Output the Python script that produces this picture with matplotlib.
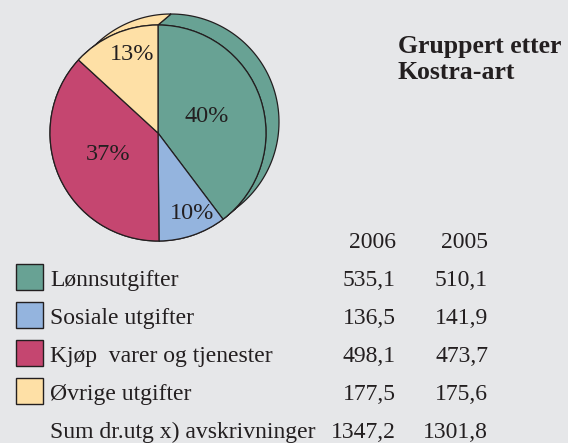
import matplotlib.pyplot as plt
import numpy as np
from matplotlib.patches import Polygon, Rectangle

# data (2006 values drive the pie)
categories = ['Lønnsutgifter', 'Sosiale utgifter', 'Kjøp  varer og tjenester', 'Øvrige utgifter']
values_2006 = [535.1, 136.5, 498.1, 177.5]
values_2005 = [510.1, 141.9, 473.7, 175.6]
years = ['2006', '2005']
sum_label = 'Sum dr.utg x) avskrivninger'
sum_2006 = 1347.2
sum_2005 = 1301.8
title_lines = ['Gruppert etter', 'Kostra-art']

colors = ['#68a294', '#94b4de', '#c54670', '#fee0a6']
edge = '#231f20'
txt = '#231f20'
bg = '#e6e7e9'


def fmt(v):
    return ('%.1f' % v).replace('.', ',')


W, H = 568, 443
plt.rcParams['font.family'] = ['Liberation Serif', 'DejaVu Serif']
fig = plt.figure(figsize=(W / 100, H / 100), dpi=100, facecolor=bg)
ax = fig.add_axes([0, 0, 1, 1])

# pie layout in pixel coords (y up)
cx, cy, r = 158, H - 133, 108
dx, dy = 13, 11  # depth of the extruded back

wedges, _ = ax.pie(values_2006, colors=colors, startangle=90, counterclock=False,
                   center=(cx, cy), radius=r,
                   wedgeprops=dict(edgecolor=edge, linewidth=0.9, zorder=3))

# side faces: front arc joined to the shifted back arc
for w, c in zip(wedges, colors):
    t = np.radians(np.linspace(w.theta1, w.theta2, 80))
    fx = cx + r * np.cos(t)
    fy = cy + r * np.sin(t)
    pts = np.vstack([np.column_stack([fx, fy]),
                     np.column_stack([fx + dx, fy + dy])[::-1]])
    ax.add_patch(Polygon(pts, closed=True, facecolor=c, edgecolor=edge, linewidth=0.9, zorder=2))

# percentage labels
total = sum(values_2006)
pct_dist = [0.48, 0.81, 0.50, 0.77]
ang_shift = [0, 4, -1, -5.5]
for w, v, d, s in zip(wedges, values_2006, pct_dist, ang_shift):
    mid = np.radians((w.theta1 + w.theta2) / 2 + s)
    ax.text(cx + d * r * np.cos(mid), cy + d * r * np.sin(mid), '%.0f%%' % (v / total * 100),
            ha='center', va='center', fontsize=17.5, color=txt, zorder=4)

# title, one text per line
for i, line in enumerate(title_lines):
    ax.text(398, H - (53 + 26 * i), line, ha='left', va='baseline', fontsize=18.5,
            fontweight='bold', color=txt)

# legend table
col_x = [396, 488]
base0 = 286
step = 38
for x, y in zip(col_x, years):
    ax.text(x, H - (base0 - step), y, ha='right', va='baseline', fontsize=17, color=txt)

for i, (cat, c) in enumerate(zip(categories, colors)):
    b = base0 + i * step
    ax.add_patch(Rectangle((16, H - (b + 4)), 27, 26, facecolor=c, edgecolor=edge, linewidth=1.0))
    ax.text(50, H - b, cat, ha='left', va='baseline', fontsize=17, color=txt)
    ax.text(col_x[0], H - b, fmt(values_2006[i]), ha='right', va='baseline', fontsize=17, color=txt)
    ax.text(col_x[1], H - b, fmt(values_2005[i]), ha='right', va='baseline', fontsize=17, color=txt)

b = base0 + len(categories) * step
ax.text(50, H - b, sum_label, ha='left', va='baseline', fontsize=17, color=txt)
ax.text(col_x[0], H - b, fmt(sum_2006), ha='right', va='baseline', fontsize=17, color=txt)
ax.text(col_x[1], H - b, fmt(sum_2005), ha='right', va='baseline', fontsize=17, color=txt)

ax.set_xlim(0, W)
ax.set_ylim(0, H)
ax.set_aspect('auto')
ax.axis('off')

fig.savefig('out.png', dpi=100, facecolor=bg)
